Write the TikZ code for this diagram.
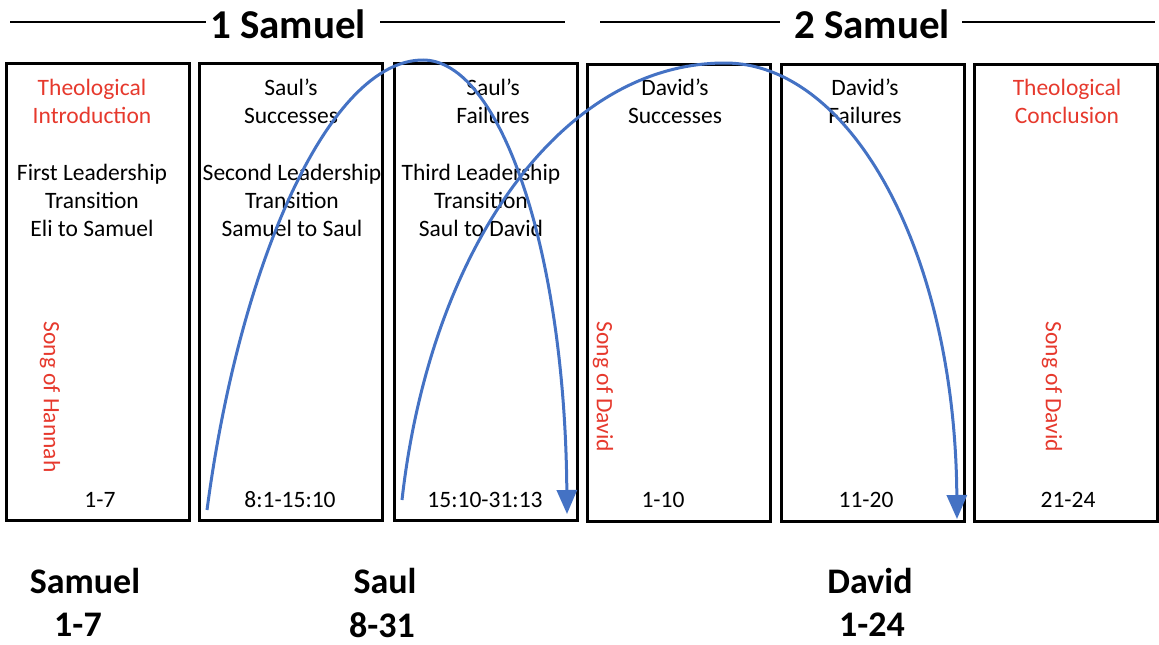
\documentclass[tikz,border=0pt]{standalone}
\usepackage{fontspec}
\setmainfont{Carlito}
\usepackage{tikz}
\usetikzlibrary{positioning, arrows.meta}
\definecolor{songRed}{RGB}{230,57,45}
\definecolor{arcBlue}{RGB}{68,114,196}
\tikzstyle{bookBox}=[draw, line width=3pt, minimum width=183pt, minimum height=457pt, inner sep=0pt]
\tikzstyle{boxText}=[align=center, font=\fontsize{23.5}{28}\selectfont, inner sep=0pt]
\tikzstyle{songText}=[boxText, text=songRed, rotate=-90]
\tikzstyle{bookTitle}=[font=\fontsize{41}{44}\selectfont\bfseries, inner sep=0pt]
\tikzstyle{ruleLine}=[line width=1.5pt]
\tikzstyle{kingLabel}=[align=center, font=\fontsize{36}{44}\selectfont\bfseries, inner sep=0pt]
\tikzstyle{reignArc}=[-{Triangle[width=20pt,length=24pt]}, line width=3pt, arcBlue]

\begin{document}
\begin{tikzpicture}[x=1pt, y=-1pt]

    \useasboundingbox (0,0) rectangle (1159,645);

    % headings

    \node[bookTitle] (sam1) at (288,24) {1 Samuel};
    \node[bookTitle] (sam2) at (872,24) {2 Samuel};
    \coordinate (l1a) at (10,22);
    \coordinate (l1b) at (565,22);
    \coordinate (l2a) at (600,22);
    \coordinate (l2b) at (1155,22);
    \draw[ruleLine] (l1a) -- ([xshift=-4pt]sam1.west |- l1a);
    \draw[ruleLine] ([xshift=14pt]sam1.east |- l1b) -- (l1b);
    \draw[ruleLine] (l2a) -- ([xshift=-14pt]sam2.west |- l2a);
    \draw[ruleLine] ([xshift=12pt]sam2.east |- l2b) -- (l2b);

    % boxes

    \node[bookBox] (b1) at (97.5,291.5) {};
    \node[bookBox] (b2) at (291,291.5) {};
    \node[bookBox] (b3) at (485.5,291.5) {};
    \node[bookBox] (b4) at (678.5,293) {};
    \node[bookBox] (b5) at (872.5,293) {};
    \node[bookBox] (b6) at (1066,293) {};

    % box texts

    \node[boxText, text=songRed] (t1) at (92,101) {Theological\\Introduction};
    \node[boxText] (tr1) at (92,200) {First Leadership\\Transition\\Eli to Samuel};
    \node[songText] (s1) at (50,397) {Song of Hannah};
    \node[boxText] (c1) at (100,500) {1-7};

    \node[boxText] (t2) at (291,101) {Saul’s\\Successes};
    \node[boxText] (tr2) at (292,200) {Second Leadership\\Transition\\Samuel to Saul};
    \node[boxText] (c2) at (290,500) {8:1-15:10};

    \node[boxText] (t3) at (493,101) {Saul’s\\Failures};
    \node[boxText] (tr3) at (481,200) {Third Leadership\\Transition\\Saul to David};
    \node[boxText] (c3) at (485,500) {15:10-31:13};

    \node[boxText] (t4) at (675,101) {David’s\\Successes};
    \node[songText] (s4) at (603,387) {Song of David};
    \node[boxText] (c4) at (663,500) {1-10};

    \node[boxText] (t5) at (865,101) {David’s\\Failures};
    \node[boxText] (c5) at (866,500) {11-20};

    \node[boxText, text=songRed] (t6) at (1067,101) {Theological\\Conclusion};
    \node[songText] (s6) at (1052,387) {Song of David};
    \node[boxText] (c6) at (1068,500) {21-24};

    % kings

    \node[kingLabel] (k1) at (85,581) {Samuel};
    \node[kingLabel] (k1n) at (78,625) {1-7};
    \node[kingLabel] (k2) at (385,581) {Saul};
    \node[kingLabel] (k2n) at (382,625) {8-31};
    \node[kingLabel] (k3) at (870,581) {David};
    \node[kingLabel] (k3n) at (872,625) {1-24};

    % arcs

    \coordinate (saulStart) at (207,510);
    \coordinate (saulTop) at (423,60);
    \coordinate (saulEnd) at (567,514);
    \coordinate (davidStart) at (402,500);
    \coordinate (davidTop) at (725,63);
    \coordinate (davidEnd) at (957,519);

    \draw[reignArc] (saulStart) .. controls (240,260) and (330,60) .. (saulTop)
        .. controls (500,60) and (565,250) .. (saulEnd);
    \draw[reignArc] (davidStart) .. controls (430,250) and (560,63) .. (davidTop)
        .. controls (850,63) and (955,250) .. (davidEnd);

\end{tikzpicture}
\end{document}
